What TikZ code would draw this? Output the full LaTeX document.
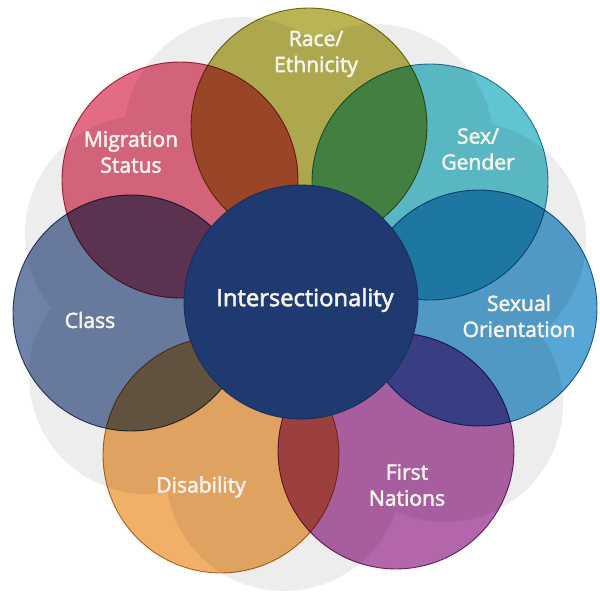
\documentclass[tikz,border=0pt]{standalone}
\usepackage{fontspec}
\setmainfont{Open Sans}
\newfontfamily\grasfont[FakeBold=2.5]{Open Sans}
\usepackage{tikz}
\usetikzlibrary{positioning}
\definecolor{cMig}{HTML}{DC4664}
\definecolor{cRace}{HTML}{A9A22A}
\definecolor{cSexe}{HTML}{3AB6C8}
\definecolor{cOrient}{HTML}{2E90CB}
\definecolor{cNation}{HTML}{A14096}
\definecolor{cHandi}{HTML}{EE9C42}
\definecolor{cClasse}{HTML}{4C6393}
\definecolor{cInter}{HTML}{1E3A70}
\definecolor{cTexte}{HTML}{F6F3EC}

\begin{document}
\begin{tikzpicture}[x=0.02cm, y=-0.02cm,
ombre/.style={circle, fill=black!7, minimum size=4.72cm, inner sep=0},
bulle/.style={circle, minimum size=4.72cm, inner sep=0, fill=#1, draw=#1!75!black, line width=0.5pt, fill opacity=0.8, blend mode=multiply},
etiq/.style={text=cTexte, align=center, font=\grasfont\fontsize{12}{14.8}\selectfont}]
\fill[white] (0,0) rectangle (600,595);
\node [ombre] (ombrerace) at (242,135) {};
\node [ombre] (ombresexe) at (375,142) {};
\node [ombre] (ombreorient) at (468,240) {};
\node [ombre] (ombrenation) at (445,404) {};
\node [ombre] (ombrehandi) at (284,473) {};
\node [ombre] (ombreclasse) at (147,376) {};
\node [ombre] (ombremig) at (143,234) {};
\node [bulle=cMig] (noeudmig) at (180,180) {};
\node [bulle=cRace] (noeudrace) at (309,126) {};
\node [bulle=cSexe] (noeudsexe) at (430,182) {};
\node [bulle=cOrient] (noeudorient) at (479,308) {};
\node [bulle=cNation] (noeudnation) at (396,451) {};
\node [bulle=cHandi] (noeudhandi) at (221,455) {};
\node [bulle=cClasse] (noeudclasse) at (131,313) {};
\node [circle, minimum size=4.68cm, inner sep=0, fill=cInter, draw=cInter!80!black, line width=0.5pt] (noeudinter) at (301,302) {};
\node [etiq, font=\grasfont\fontsize{13.5}{16}\selectfont] (txtinter) at (305,300) {Intersectionality};
\node [etiq] (txtrace) at (316,54) {Race/\\Ethnicity};
\node [etiq] (txtmig) at (131,152) {Migration\\Status};
\node [etiq] (txtsexe) at (478,149) {Sex/\\Gender};
\node [etiq] (txtorient) at (519,316) {Sexual\\Orientation};
\node [etiq] (txtnation) at (407,485) {First\\Nations};
\node [etiq] (txthandi) at (201,487) {Disability};
\node [etiq] (txtclasse) at (90,320) {Class};
\end{tikzpicture}
\end{document}
